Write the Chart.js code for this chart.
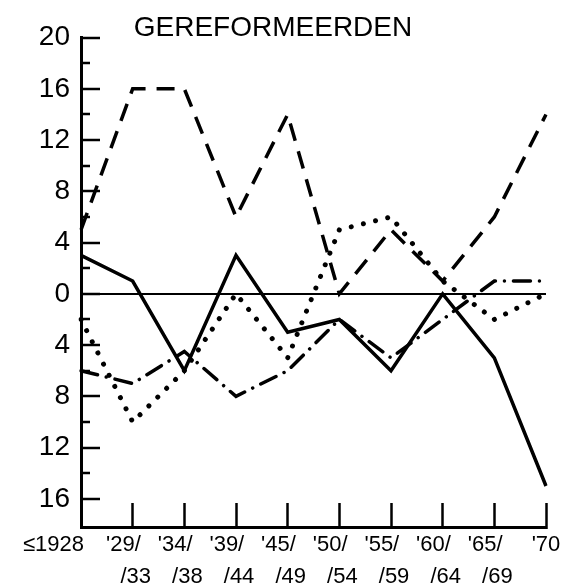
<!DOCTYPE html>
<html>
<head>
<meta charset="utf-8">
<script src="https://cdn.jsdelivr.net/npm/chart.js@4.4.0/dist/chart.umd.min.js"></script>
<style>
  body { margin: 0; background: #fff; }
</style>
</head>
<body>
<canvas id="grafiek" width="567" height="588"></canvas>
<script>
const titel = 'GEREFORMEERDEN';
const periodes = [['≤1928'], ["'29/", '/33'], ["'34/", '/38'], ["'39/", '/44'], ["'45/", '/49'],
                  ["'50/", '/54'], ["'55/", '/59'], ["'60/", '/64'], ["'65/", '/69'], ["'70"]];
const yTicks = [-16, -14, -12, -10, -8, -6, -4, -2, 0, 2, 4, 6, 8, 10, 12, 14, 16, 18, 20];

const lijnVol = [3, 1, -6, 3, -3, -2, -6, 0, -5, -15];
const lijnStreep = [5, 16, 16, 6, 14, 0, 5, 1, 6, 14];
const lijnPunt = [-2, -10, -6, 0, -5, 5, 6, 1, -2, 0];
const lijnStreepPunt = [-6, -7, -4.5, -8, -6, -2, -5, -2, 1, 1];

const lettertype = '"Liberation Sans", Arial, Helvetica, sans-serif';

function isMinor(c) {
    return c.tick && c.tick.value % 4 !== 0;
}

// labels een beetje verschuiven zoals in het origineel
function periodeLabel(value, index) {
    const regels = periodes[index];
    if (index === 0) return regels[0] + ' '.repeat(9);
    if (regels.length === 2) return [regels[0] + '   ', ' ' + regels[1]];
    return regels[0];
}

const ctx = document.getElementById('grafiek').getContext('2d');
const grafiek = new Chart(ctx, {
    type: 'line',
    data: {
        labels: periodes,
        datasets: [
            { data: lijnVol, borderWidth: 3.5 },
            { data: lijnStreep, borderWidth: 3.5, borderDash: [18, 11] },
            { data: lijnPunt, borderWidth: 5, borderDash: [0.01, 12.5], borderCapStyle: 'round' },
            { data: lijnStreepPunt, borderWidth: 3.5, borderDash: [17, 9, 0.01, 9], borderCapStyle: 'round' }
        ].map(d => Object.assign({
            borderColor: '#000',
            backgroundColor: '#000',
            pointRadius: 0,
            fill: false,
            tension: 0
        }, d))
    },
    options: {
        responsive: false,
        devicePixelRatio: 1,
        animation: false,
        layout: { padding: { left: 0, right: 21, top: 0, bottom: 0 } },
        plugins: {
            legend: { display: false },
            tooltip: { enabled: false },
            title: {
                display: true,
                text: titel,
                color: '#000',
                font: { family: lettertype, size: 28, weight: 'normal', lineHeight: 0.7 },
                padding: { top: 18, bottom: 0 }
            }
        },
        scales: {
            x: {
                type: 'category',
                offset: false,
                afterFit: s => { s.height = 61; s.paddingLeft = 0; s.paddingRight = 0; },
                border: { display: true, color: '#000', width: 3 },
                grid: {
                    drawOnChartArea: false,
                    offset: false,
                    tickLength: -24,
                    tickColor: '#000',
                    tickWidth: 2.5
                },
                ticks: {
                    autoSkip: false,
                    maxRotation: 0,
                    minRotation: 0,
                    padding: 26,
                    color: '#000',
                    font: { family: lettertype, size: 22, lineHeight: 1.45 },
                    callback: periodeLabel
                }
            },
            y: {
                min: -18.2,
                max: 20,
                afterBuildTicks: s => { s.ticks = yTicks.map(v => ({ value: v })); },
                afterFit: s => { s.width = 81; s.paddingTop = 0; s.paddingBottom = 0; },
                border: { display: true, color: '#000', width: 3 },
                grid: {
                    drawOnChartArea: true,
                    tickLength: -19,
                    color: c => (c.tick && c.tick.value === 0) ? '#000' : 'rgba(0,0,0,0)',
                    lineWidth: 2,
                    tickColor: '#000',
                    tickWidth: 2.5,
                    tickBorderDash: c => isMinor(c) ? [10, 10] : [],
                    tickBorderDashOffset: c => isMinor(c) ? 10 : 0
                },
                ticks: {
                    autoSkip: false,
                    padding: 30,
                    color: '#000',
                    font: { family: lettertype, size: 28 },
                    callback: v => v % 4 === 0 ? String(Math.abs(v)) : ''
                }
            }
        }
    }
});
</script>
</body>
</html>
